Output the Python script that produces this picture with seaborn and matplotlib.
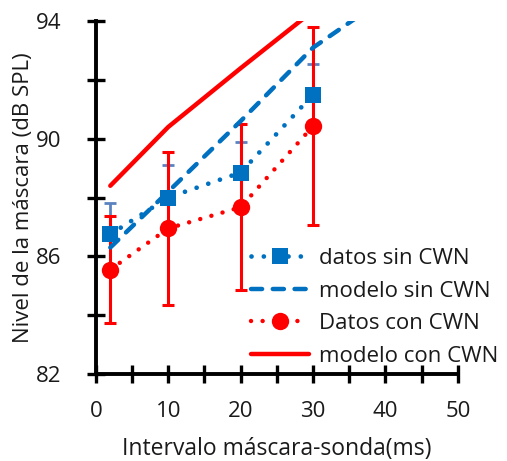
import matplotlib
matplotlib.use("Agg")
import matplotlib.pyplot as plt
from matplotlib.ticker import FixedLocator
import seaborn as sns
import pandas as pd

# Measured thresholds (dB SPL) at each masker-probe interval (ms)
intervalos = [2, 10, 20, 30]
datos_sin = [86.75, 88.0, 88.85, 91.5]
err_sin = [1.05, 1.1, 1.05, 1.05]
datos_con = [85.55, 86.95, 87.67, 90.43]
err_con = [1.82, 2.6, 2.83, 3.37]

# Model predictions
x_modelo = [2, 10, 20, 30, 40]
modelo_sin = [86.3, 88.2, 90.6, 93.1, 94.8]
modelo_con = [88.4, 90.4, 92.4, 94.35, 96.3]

etiquetas = ["datos sin CWN", "modelo sin CWN", "Datos con CWN", "modelo con CWN"]
x_ticks = [0, 10, 20, 30, 40, 50]
y_ticks = [82, 86, 90, 94]

AZUL = "#0070C0"
ROJO = "#FF0000"
AZUL_ERR = "#5B82C0"
TEXTO = "#1a1a1a"
FS = 16

sns.set_theme(style="white")
plt.rcParams["font.family"] = ["Open Sans", "DejaVu Sans"]

fig = plt.figure(figsize=(5.07, 4.61), dpi=100)
ax = fig.add_axes([0.189, 0.189, 0.714, 0.765])

df_sin = pd.DataFrame({"x": intervalos, "y": datos_sin})
df_con = pd.DataFrame({"x": intervalos, "y": datos_con})
df_msin = pd.DataFrame({"x": x_modelo, "y": modelo_sin})
df_mcon = pd.DataFrame({"x": x_modelo, "y": modelo_con})

# error bars
ax.errorbar(intervalos, datos_sin, yerr=err_sin, fmt="none", ecolor=AZUL_ERR,
            elinewidth=2.0, capsize=4, capthick=2.0, zorder=1)
ax.errorbar(intervalos, datos_con, yerr=err_con, fmt="none", ecolor=ROJO,
            elinewidth=2.2, capsize=4, capthick=2.2, zorder=2)

punteado = (0, (0.01, 2.6))
sns.lineplot(data=df_sin, x="x", y="y", ax=ax, color=AZUL, linestyle=punteado,
             linewidth=3.4, marker="s", markersize=12, markeredgewidth=0,
             dash_capstyle="round", label=etiquetas[0], zorder=4)
sns.lineplot(data=df_msin, x="x", y="y", ax=ax, color=AZUL, linestyle=(0, (2.5, 2.4)),
             linewidth=3.2, label=etiquetas[1], zorder=3, dash_capstyle="round")
sns.lineplot(data=df_con, x="x", y="y", ax=ax, color=ROJO, linestyle=punteado,
             linewidth=3.2, marker="o", markersize=12.5, markeredgewidth=0,
             dash_capstyle="round", label=etiquetas[2], zorder=4)
sns.lineplot(data=df_mcon, x="x", y="y", ax=ax, color=ROJO, linestyle="-",
             linewidth=3.2, label=etiquetas[3], zorder=3, solid_capstyle="round")

ax.set_xlim(0, 50)
ax.set_ylim(82, 94)
ax.xaxis.set_major_locator(FixedLocator(x_ticks))
ax.xaxis.set_minor_locator(FixedLocator([5, 15, 25, 35, 45]))
ax.yaxis.set_major_locator(FixedLocator(y_ticks))
ax.yaxis.set_minor_locator(FixedLocator([84, 88, 92]))

for s in ["top", "right"]:
    ax.spines[s].set_visible(False)
for s in ["left", "bottom"]:
    ax.spines[s].set_color("black")
    ax.spines[s].set_linewidth(2.8)

ax.tick_params(which="both", direction="inout", length=13, width=2.4, color="black",
               labelsize=FS, labelcolor=TEXTO, bottom=True, left=True)
ax.tick_params(axis="x", pad=13)
ax.tick_params(axis="y", pad=18)

ax.set_xlabel("Intervalo máscara-sonda(ms)", fontsize=16.5, color=TEXTO, labelpad=11)
ax.set_ylabel("Nivel de la máscara (dB SPL)", fontsize=16, color=TEXTO, labelpad=2)

leg = ax.legend(loc="lower left", bbox_to_anchor=(0.43, 0.02), frameon=False,
                fontsize=FS, handlelength=2.6, handletextpad=0.45,
                labelspacing=0.52, borderaxespad=0.0, borderpad=0.0)
for t in leg.get_texts():
    t.set_color(TEXTO)

fig.savefig("out.png", dpi=100)
